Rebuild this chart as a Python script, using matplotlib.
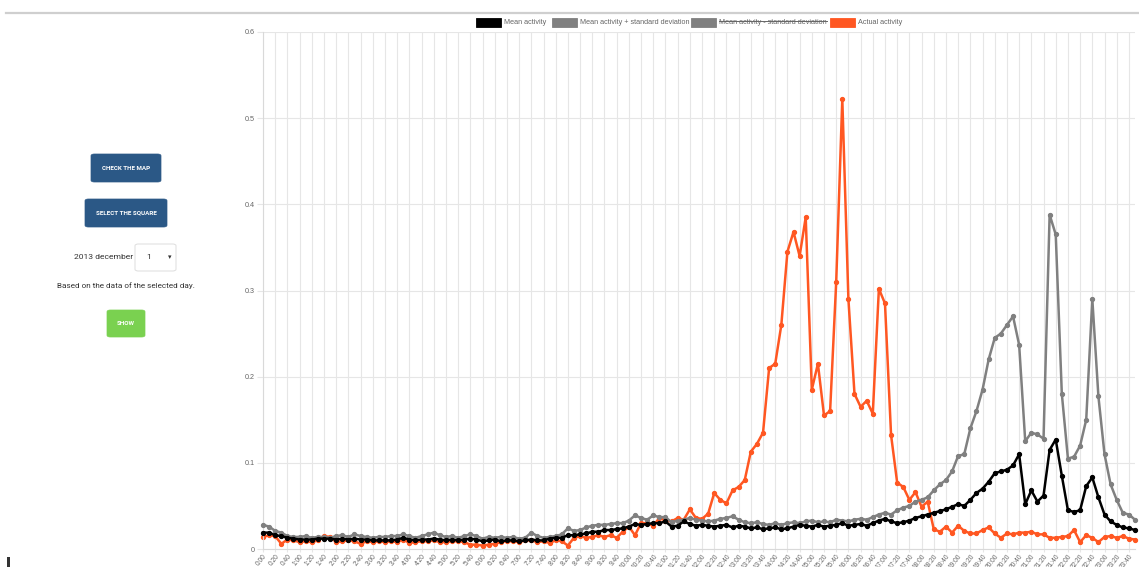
import matplotlib
matplotlib.use("Agg")
import matplotlib.pyplot as plt
from matplotlib.patches import Rectangle, FancyBboxPatch
from matplotlib.lines import Line2D
import numpy as np

W, H = 1139, 567

# 10-minute slots of the day
times = [f"{h}:{m:02d}" for h in range(24) for m in range(0, 60, 10)]

mean_activity = [
    0.019, 0.019, 0.016, 0.015, 0.013, 0.012, 0.011, 0.011, 0.011, 0.012,
    0.012, 0.012, 0.011, 0.012, 0.011, 0.012, 0.011, 0.011, 0.010, 0.010,
    0.010, 0.010, 0.011, 0.013, 0.011, 0.010, 0.011, 0.011, 0.012, 0.011,
    0.010, 0.011, 0.010, 0.011, 0.012, 0.011, 0.009, 0.010, 0.011, 0.009,
    0.010, 0.010, 0.009, 0.010, 0.011, 0.010, 0.010, 0.012, 0.013, 0.013,
    0.016, 0.016, 0.017, 0.018, 0.020, 0.020, 0.022, 0.022, 0.023, 0.024,
    0.026, 0.029, 0.028, 0.029, 0.030, 0.030, 0.032, 0.026, 0.027, 0.032,
    0.029, 0.027, 0.028, 0.027, 0.026, 0.027, 0.028, 0.025, 0.027, 0.026,
    0.024, 0.025, 0.023, 0.024, 0.025, 0.023, 0.024, 0.026, 0.028, 0.027,
    0.026, 0.028, 0.026, 0.027, 0.028, 0.030, 0.027, 0.028, 0.029, 0.027,
    0.030, 0.033, 0.035, 0.032, 0.030, 0.031, 0.033, 0.036, 0.038, 0.040,
    0.042, 0.044, 0.046, 0.049, 0.052, 0.050, 0.057, 0.065, 0.070, 0.078,
    0.088, 0.090, 0.092, 0.097, 0.110, 0.052, 0.068, 0.055, 0.062, 0.115,
    0.127, 0.085, 0.045, 0.043, 0.045, 0.073, 0.083, 0.060, 0.040, 0.032,
    0.028, 0.025, 0.024, 0.022,
]

mean_plus_std = [
    0.028, 0.026, 0.021, 0.019, 0.015, 0.014, 0.014, 0.015, 0.013, 0.014,
    0.014, 0.013, 0.015, 0.016, 0.014, 0.017, 0.015, 0.014, 0.013, 0.014,
    0.014, 0.015, 0.015, 0.017, 0.015, 0.013, 0.015, 0.017, 0.019, 0.016,
    0.014, 0.015, 0.013, 0.015, 0.017, 0.015, 0.012, 0.014, 0.013, 0.014,
    0.013, 0.014, 0.012, 0.013, 0.019, 0.015, 0.013, 0.014, 0.015, 0.017,
    0.024, 0.021, 0.022, 0.025, 0.027, 0.028, 0.028, 0.029, 0.030, 0.030,
    0.033, 0.039, 0.036, 0.034, 0.039, 0.037, 0.037, 0.031, 0.033, 0.034,
    0.036, 0.034, 0.033, 0.032, 0.033, 0.035, 0.036, 0.038, 0.034, 0.031,
    0.030, 0.031, 0.029, 0.028, 0.030, 0.028, 0.030, 0.031, 0.030, 0.032,
    0.033, 0.031, 0.032, 0.031, 0.034, 0.033, 0.032, 0.034, 0.035, 0.034,
    0.037, 0.040, 0.042, 0.040, 0.045, 0.048, 0.050, 0.055, 0.057, 0.060,
    0.068, 0.075, 0.080, 0.090, 0.108, 0.110, 0.140, 0.160, 0.185, 0.220,
    0.245, 0.250, 0.260, 0.270, 0.237, 0.125, 0.135, 0.133, 0.128, 0.388,
    0.365, 0.180, 0.105, 0.107, 0.120, 0.150, 0.290, 0.177, 0.110, 0.075,
    0.057, 0.042, 0.040, 0.034,
]

actual_activity = [
    0.014, 0.016, 0.015, 0.006, 0.011, 0.010, 0.008, 0.009, 0.008, 0.010,
    0.015, 0.014, 0.008, 0.009, 0.010, 0.009, 0.006, 0.009, 0.008, 0.009,
    0.008, 0.009, 0.008, 0.011, 0.007, 0.008, 0.009, 0.009, 0.010, 0.008,
    0.008, 0.009, 0.009, 0.008, 0.005, 0.005, 0.004, 0.005, 0.006, 0.008,
    0.009, 0.009, 0.008, 0.010, 0.010, 0.008, 0.009, 0.007, 0.010, 0.009,
    0.004, 0.013, 0.015, 0.013, 0.014, 0.016, 0.014, 0.016, 0.013, 0.020,
    0.026, 0.016, 0.030, 0.030, 0.027, 0.036, 0.033, 0.032, 0.036, 0.034,
    0.046, 0.036, 0.035, 0.041, 0.065, 0.057, 0.053, 0.068, 0.072, 0.080,
    0.113, 0.122, 0.135, 0.210, 0.215, 0.260, 0.345, 0.368, 0.340, 0.385,
    0.185, 0.215, 0.155, 0.160, 0.310, 0.522, 0.290, 0.180, 0.165, 0.172,
    0.157, 0.302, 0.285, 0.132, 0.077, 0.072, 0.057, 0.066, 0.049, 0.055,
    0.023, 0.020, 0.026, 0.019, 0.027, 0.021, 0.018, 0.018, 0.022, 0.025,
    0.018, 0.013, 0.018, 0.017, 0.019, 0.019, 0.020, 0.017, 0.017, 0.013,
    0.013, 0.014, 0.015, 0.022, 0.008, 0.016, 0.013, 0.008, 0.014, 0.015,
    0.013, 0.015, 0.012, 0.011,
]

legend_labels = ["Mean activity", "Mean activity + standard deviation",
                 "Mean activity - standard deviation", "Actual activity"]

BLACK = "#000000"
GREY = "#808080"
ORANGE = "#ff5722"
TXT = "#666666"


def px(x, y):
    """screen pixel (from top-left) -> figure fraction"""
    return x / W, 1 - y / H


fig = plt.figure(figsize=(W / 100, H / 100), dpi=100)
fig.patch.set_facecolor("white")

# ---- chart ----
x0, x1, ytop, ybot = 263, 1135, 32, 549
ax = fig.add_axes([x0 / W, 1 - ybot / H, (x1 - x0) / W, (ybot - ytop) / H])
xs = np.arange(len(times))

for vals, col, z in [(actual_activity, ORANGE, 2), (mean_plus_std, GREY, 3),
                     (mean_activity, BLACK, 4)]:
    ax.plot(xs, vals, color=col, lw=1.8, marker="o", ms=2.8, zorder=z,
            clip_on=False)

ax.set_xlim(0, len(times) - 1)
ax.set_ylim(0, 0.6)
yt = np.round(np.arange(0, 0.61, 0.1), 1)
ax.set_yticks(yt)
ax.set_yticklabels(["0" if v == 0 else f"{v:g}" for v in yt],
                   fontsize=5.2, color=TXT, family="Liberation Sans")
ax.set_xticks(xs[::2])
ax.set_xticklabels(times[::2], rotation=52, ha="right", rotation_mode="anchor",
                   fontsize=4.8, color=TXT, family="Liberation Sans")
ax.grid(True, color="#e6e6e6", lw=0.8)
ax.set_axisbelow(True)
for s in ["top", "right"]:
    ax.spines[s].set_visible(False)
for s in ["left", "bottom"]:
    ax.spines[s].set_color("#d9d9d9")
    ax.spines[s].set_linewidth(0.8)
ax.tick_params(axis="y", length=4, color="#e6e6e6", pad=2)
ax.tick_params(axis="x", length=2, color="#e6e6e6", pad=1)

# ---- legend (chart.js style) ----
leg_boxes = [476, 552, 691, 830]
leg_cols = [BLACK, GREY, GREY, ORANGE]
fig.canvas.draw()
renderer = fig.canvas.get_renderer()
for bx, col, lab in zip(leg_boxes, leg_cols, legend_labels):
    fx, fy = px(bx, 27)
    fig.patches.append(Rectangle((fx, fy), 25 / W, 9 / H, transform=fig.transFigure,
                                 facecolor=col, edgecolor=col, lw=0.6))
    tx, ty = px(bx + 28, 22.5)
    t = fig.text(tx, ty, lab, fontsize=5.2, color=TXT, va="center", ha="left",
                 family="Liberation Sans")
    if "- standard" in lab:
        # chart.js strikes through hidden datasets
        bb = t.get_window_extent(renderer=renderer)
        ymid = ((bb.y0 + bb.y1) / 2 + 1.2) / fig.bbox.height
        fig.lines.append(Line2D([bb.x0 / fig.bbox.width, bb.x1 / fig.bbox.width],
                                [ymid, ymid], transform=fig.transFigure,
                                color=TXT, lw=0.7))

# top separator line
fig.lines.append(Line2D([6 / W, 1], [1 - 12.5 / H] * 2, transform=fig.transFigure,
                        color="#cfcfcf", lw=1.6))

# ---- left control panel ----
def button(xa, ya, xb, yb, fc, label):
    fx, fy = px(xa, yb)
    fig.patches.append(FancyBboxPatch((fx, fy), (xb - xa) / W, (yb - ya) / H,
                                      boxstyle="round,pad=0,rounding_size=0.003",
                                      transform=fig.transFigure, facecolor=fc,
                                      edgecolor=fc, lw=0.5))
    cx, cy = px((xa + xb) / 2, (ya + yb) / 2)
    fig.text(cx, cy, label, color="white", fontsize=4.5, fontweight="bold",
             ha="center", va="center", family="Roboto")


button(91, 154, 161, 182, "#2b5886", "CHECK THE MAP")
button(85, 199, 167, 227, "#2b5886", "SELECT THE SQUARE")
button(107, 310, 145, 337, "#7ad150", "SHOW")

fig.text(*px(133, 257), "2013 december", fontsize=6.1, color="#333333",
         ha="right", va="center", family="Roboto")
fx, fy = px(135, 271)
fig.patches.append(FancyBboxPatch((fx, fy), 41 / W, 27 / H,
                                  boxstyle="round,pad=0,rounding_size=0.003",
                                  transform=fig.transFigure, facecolor="white",
                                  edgecolor="#dddddd", lw=0.7))
fig.text(*px(149, 257), "1", fontsize=6.1, color="#333333", ha="center",
         va="center", family="Roboto")
fig.text(*px(170, 257), "▾", fontsize=5, color="#333333", ha="center",
         va="center", family=["DejaVu Sans"])
fig.text(*px(126, 286), "Based on the data of the selected day.", fontsize=5.9,
         color="#333333", ha="center", va="center", family="Roboto")

# stray mark at bottom-left corner
fig.patches.append(Rectangle(px(7, 567), 2.5 / W, 10 / H, transform=fig.transFigure,
                             facecolor="#333333", edgecolor="none"))

fig.savefig("out.png", dpi=100)
